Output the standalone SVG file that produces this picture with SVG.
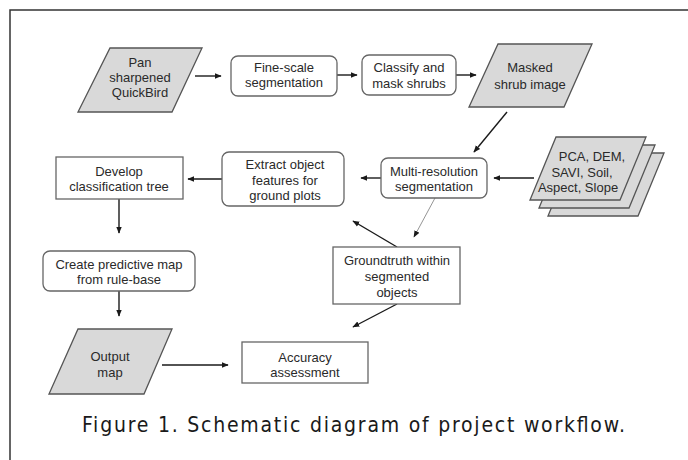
<svg xmlns="http://www.w3.org/2000/svg" width="688" height="460" viewBox="0 0 688 460">
<style>
  .lbl { font-family: "Liberation Sans", Arial, sans-serif; font-size: 13px; fill: #2a2a2a; text-anchor: middle; }
  .box { fill: #ffffff; stroke: #666666; stroke-width: 1.3; }
  .para { fill: #d9d9d9; stroke: #555555; stroke-width: 1.3; }
  .con { stroke: #1a1a1a; stroke-width: 1.4; fill: none; marker-end: url(#ah); }
  .thin { stroke: #888888; stroke-width: 0.9; fill: none; marker-end: url(#ah); }
  .cap { font-family: "DejaVu Sans Condensed", "DejaVu Sans", sans-serif; font-size: 21px; fill: #1a1a1a; }
</style>
<defs>
  <marker id="ah" viewBox="0 0 10 10" refX="9" refY="5" markerWidth="7" markerHeight="7" markerUnits="userSpaceOnUse" orient="auto">
    <path d="M0,1 L10,5 L0,9 z" fill="#1a1a1a"/>
  </marker>
</defs>
<rect width="688" height="460" fill="#ffffff"/>
<path d="M10,460 L10,10 L688,10" fill="none" stroke="#333333" stroke-width="1.5"/>

<g id="connectors">
  <line class="con" x1="195" y1="76" x2="221" y2="76"/>
  <line class="con" x1="337" y1="75" x2="357" y2="75"/>
  <line class="con" x1="456" y1="75" x2="476" y2="75"/>
  <line class="con" x1="507" y1="112" x2="474" y2="152"/>
  <line class="con" x1="534" y1="178" x2="494" y2="178"/>
  <line class="con" x1="381" y1="178" x2="361" y2="178"/>
  <line class="con" x1="222" y1="179" x2="188" y2="179"/>
  <line class="con" x1="119" y1="199" x2="119" y2="233"/>
  <line class="con" x1="119" y1="291" x2="119" y2="316"/>
  <line class="con" x1="162" y1="365" x2="228" y2="365"/>
  <line class="thin" x1="435" y1="198" x2="414" y2="237"/>
  <line class="con" x1="397" y1="247" x2="353" y2="221"/>
  <line class="con" x1="397" y1="304" x2="353" y2="327"/>
</g>

<g id="pan">
  <polygon class="para" points="110,48 202,48 172,112 78,112"/>
  <text class="lbl" x="140" y="67">Pan</text>
  <text class="lbl" x="140" y="82">sharpened</text>
  <text class="lbl" x="140" y="97">QuickBird</text>
</g>
<g id="finescale">
  <rect class="box" x="231" y="56" width="106" height="40" rx="7"/>
  <text class="lbl" x="284" y="72">Fine-scale</text>
  <text class="lbl" x="284" y="87">segmentation</text>
</g>
<g id="classify">
  <rect class="box" x="362" y="55" width="94" height="40" rx="7"/>
  <text class="lbl" x="409" y="72">Classify and</text>
  <text class="lbl" x="409" y="88">mask shrubs</text>
</g>
<g id="masked">
  <polygon class="para" points="498,44 592,44 564,107 469,107"/>
  <text class="lbl" x="530" y="72">Masked</text>
  <text class="lbl" x="530" y="89">shrub image</text>
</g>
<g id="pca">
  <polygon class="para" points="574,153 664,153 638,216 548,216"/>
  <polygon class="para" points="565,145 655,145 629,208 539,208"/>
  <polygon class="para" points="556,137 646,137 620,200 530,200"/>
  <text class="lbl" x="592" y="161">PCA, DEM,</text>
  <text class="lbl" x="582" y="177">SAVI, Soil,</text>
  <text class="lbl" x="578" y="192">Aspect, Slope</text>
</g>
<g id="multires">
  <rect class="box" x="381" y="158" width="106" height="40" rx="7"/>
  <text class="lbl" x="434" y="176">Multi-resolution</text>
  <text class="lbl" x="434" y="191">segmentation</text>
</g>
<g id="extract">
  <rect class="box" x="222" y="152" width="122" height="54" rx="7"/>
  <text class="lbl" x="285" y="169">Extract object</text>
  <text class="lbl" x="285" y="185">features for</text>
  <text class="lbl" x="285" y="200">ground plots</text>
</g>
<g id="develop">
  <rect class="box" x="56" y="157" width="127" height="42"/>
  <text class="lbl" x="119" y="176">Develop</text>
  <text class="lbl" x="119" y="191">classification tree</text>
</g>
<g id="create">
  <rect class="box" x="43" y="251" width="152" height="40" rx="7"/>
  <text class="lbl" x="119" y="269">Create predictive map</text>
  <text class="lbl" x="119" y="284">from rule-base</text>
</g>
<g id="groundtruth">
  <rect class="box" x="333" y="247" width="127" height="57"/>
  <text class="lbl" x="397" y="265">Groundtruth within</text>
  <text class="lbl" x="397" y="281">segmented</text>
  <text class="lbl" x="397" y="297">objects</text>
</g>
<g id="output">
  <polygon class="para" points="78,329 172,329 144,394 49,394"/>
  <text class="lbl" x="110" y="361">Output</text>
  <text class="lbl" x="110" y="377">map</text>
</g>
<g id="accuracy">
  <rect class="box" x="242" y="342" width="126" height="41"/>
  <text class="lbl" x="305" y="362">Accuracy</text>
  <text class="lbl" x="305" y="377">assessment</text>
</g>

<text class="cap" x="82" y="432" textLength="543" lengthAdjust="spacing">Figure 1. Schematic diagram of project workflow.</text>
</svg>
